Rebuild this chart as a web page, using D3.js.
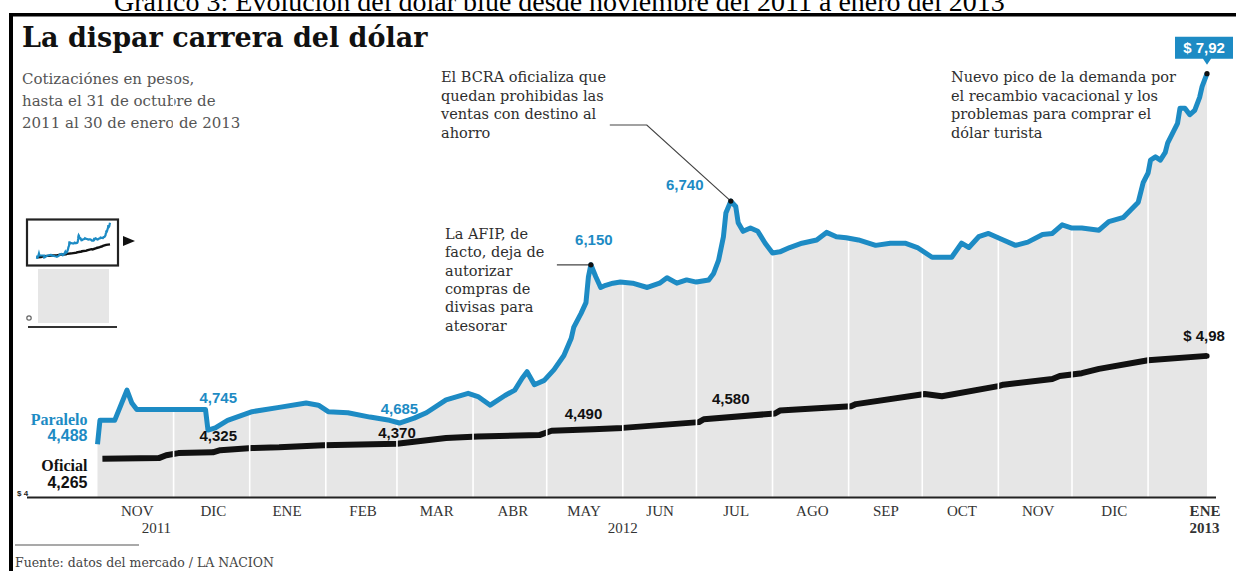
<!DOCTYPE html>
<html>
<head>
<meta charset="utf-8">
<script src="https://cdn.jsdelivr.net/npm/d3@7"></script>
<style>
  body { margin: 0; background: #fff; }
  svg { display: block; }
  text { font-family: "Liberation Serif", "DejaVu Serif", serif; }
  .num { font-family: "Liberation Sans", Arial, sans-serif; font-weight: bold; }
  .slab { font-family: "DejaVu Serif", "Liberation Serif", serif; }
</style>
</head>
<body>
<div id="chart"></div>
<script>
// Dólar paralelo (blue), cotización diaria aproximada
const paraleloDates = [
  "2011-10-31","2011-11-01","2011-11-07","2011-11-12","2011-11-14","2011-11-16","2011-12-14","2011-12-15","2011-12-18","2011-12-23",
  "2012-01-02","2012-01-13","2012-01-24","2012-01-29","2012-02-02","2012-02-10","2012-02-19","2012-02-27","2012-03-02","2012-03-08",
  "2012-03-13","2012-03-21","2012-03-30","2012-04-03","2012-04-08","2012-04-14","2012-04-18","2012-04-21","2012-04-23","2012-04-26",
  "2012-04-30","2012-05-04","2012-05-08","2012-05-11","2012-05-12","2012-05-15","2012-05-17","2012-05-18","2012-05-19","2012-05-21",
  "2012-05-23","2012-05-25","2012-05-28","2012-05-31","2012-06-05","2012-06-11","2012-06-16","2012-06-19","2012-06-23","2012-06-27",
  "2012-07-01","2012-07-06","2012-07-08","2012-07-10","2012-07-12","2012-07-13","2012-07-15","2012-07-17","2012-07-18","2012-07-20",
  "2012-07-23","2012-07-26","2012-07-29","2012-08-01","2012-08-04","2012-08-08","2012-08-13","2012-08-19","2012-08-23","2012-08-27",
  "2012-08-31","2012-09-05","2012-09-12","2012-09-18","2012-09-24","2012-09-29","2012-10-05","2012-10-09","2012-10-13","2012-10-17",
  "2012-10-20","2012-10-24","2012-10-28","2012-11-03","2012-11-08","2012-11-13","2012-11-19","2012-11-23","2012-11-27","2012-12-01",
  "2012-12-05","2012-12-12","2012-12-16","2012-12-22","2012-12-25","2012-12-28","2012-12-30","2013-01-01","2013-01-02","2013-01-04",
  "2013-01-06","2013-01-08","2013-01-09","2013-01-11","2013-01-13","2013-01-14","2013-01-16","2013-01-18","2013-01-20","2013-01-22",
  "2013-01-23","2013-01-25"
];
const paraleloValues = [
  4.488,4.71,4.71,4.99,4.87,4.81,4.81,4.62,4.64,4.71,
  4.79,4.83,4.87,4.85,4.79,4.78,4.74,4.71,4.685,4.73,
  4.78,4.90,4.96,4.93,4.85,4.94,4.99,5.10,5.16,5.04,
  5.08,5.18,5.31,5.47,5.57,5.70,5.80,6.04,6.15,6.04,
  5.94,5.96,5.98,5.99,5.98,5.94,5.98,6.03,5.98,6.01,
  5.99,6.01,6.07,6.19,6.41,6.63,6.74,6.69,6.54,6.46,
  6.49,6.46,6.35,6.26,6.27,6.31,6.35,6.38,6.45,6.41,
  6.40,6.38,6.33,6.35,6.35,6.31,6.22,6.22,6.22,6.35,
  6.31,6.41,6.44,6.38,6.33,6.36,6.43,6.44,6.52,6.49,
  6.49,6.47,6.55,6.59,6.66,6.73,6.91,7.00,7.12,7.15,
  7.12,7.19,7.28,7.37,7.46,7.60,7.60,7.54,7.58,7.70,
  7.80,7.92
];

// Dólar oficial
const oficialDates = [
  "2011-11-02","2011-11-25","2011-11-28","2011-12-03","2011-12-17","2011-12-20","2012-01-02","2012-01-13",
  "2012-01-31","2012-03-01","2012-03-21","2012-04-03","2012-04-28","2012-05-03","2012-05-20","2012-06-01",
  "2012-07-02","2012-07-04","2012-08-02","2012-08-04","2012-09-02","2012-09-04","2012-10-02","2012-10-09",
  "2012-11-01","2012-11-03","2012-11-23","2012-11-26","2012-12-05","2012-12-12","2013-01-01","2013-01-25"
];
const oficialValues = [
  4.265,4.27,4.29,4.305,4.31,4.325,4.34,4.345,
  4.36,4.37,4.41,4.42,4.43,4.46,4.47,4.48,
  4.52,4.54,4.58,4.60,4.63,4.645,4.715,4.70,
  4.77,4.78,4.82,4.84,4.86,4.89,4.95,4.98
];

// Eje de meses
const monthLabels = ["NOV","DIC","ENE","FEB","MAR","ABR","MAY","JUN","JUL","AGO","SEP","OCT","NOV","DIC","ENE"];
const monthDates = ["2011-11-16","2011-12-17","2012-01-16","2012-02-16","2012-03-17","2012-04-17","2012-05-16","2012-06-16",
  "2012-07-17","2012-08-17","2012-09-16","2012-10-17","2012-11-17","2012-12-18","2013-01-24"];
const yearLabels = ["2011","2012","2013"];
const yearDates = ["2011-11-24","2012-06-01","2013-01-24"];

// Valores destacados
const paraleloMarks = ["4,745","4,685","6,150","6,740"];
const paraleloMarkDates = ["2011-12-20","2012-03-02","2012-05-19","2012-07-15"];
const paraleloMarkValues = [4.745,4.685,6.15,6.74];
const oficialMarks = ["4,325","4,370","4,490","4,580"];
const oficialMarkDates = ["2011-12-20","2012-03-01","2012-05-16","2012-07-15"];
const oficialMarkValues = [4.325,4.37,4.49,4.58];

const caption = "Gráfico 3: Evolución del dólar blue desde noviembre del 2011 a enero del 2013";
const title = "La dispar carrera del dólar";
const subtitle = ["Cotizaciónes en pesos,", "hasta el 31 de octubre de", "2011 al 30 de enero de 2013"];
const noteAfip = ["La AFIP, de", "facto, deja de", "autorizar", "compras de", "divisas para", "atesorar"];
const noteBcra = ["El BCRA oficializa que", "quedan prohibidas las", "ventas con destino al", "ahorro"];
const notePico = ["Nuevo pico de la demanda por", "el recambio vacacional y los", "problemas para comprar el", "dólar turista"];
const source = "Fuente:  datos del mercado / LA NACION";

const W = 1240, H = 571;
const BLUE = "#1d8bc4", GRAY = "#e6e6e6", INK = "#2e2e2e";
const parse = d3.timeParse("%Y-%m-%d");

const paralelo = paraleloDates.map((d, i) => ({ date: parse(d), value: paraleloValues[i] }));
const oficial = oficialDates.map((d, i) => ({ date: parse(d), value: oficialValues[i] }));

const svg = d3.select("#chart").append("svg").attr("width", W).attr("height", H);

const x = d3.scaleTime()
  .domain([parse("2011-10-31"), parse("2013-01-25")])
  .range([97.5, 1207]);
// the original uses separate vertical scales for each series
const yP = d3.scaleLinear().domain([4, 8]).range([497, 65]);
const yO = d3.scaleLinear().domain([4, 5]).range([497, 353]);

// caption above frame (cut at the top, as in the source image)
svg.append("text").attr("x", 114).attr("y", 11)
  .style("font-family", "'Liberation Serif', serif").style("font-size", "28px").attr("fill", "#000")
  .text(caption);

// frame
svg.append("rect").attr("x", 9).attr("y", 13).attr("width", 1227).attr("height", 3.5).attr("fill", "#000");
svg.append("rect").attr("x", 9).attr("y", 13).attr("width", 4).attr("height", H - 13).attr("fill", "#000");

// title and subtitle
svg.append("text").attr("class", "slab").attr("x", 22).attr("y", 47)
  .style("font-size", "27px").style("font-weight", "bold").attr("fill", "#111").text(title);
svg.append("g").selectAll("text").data(subtitle).join("text")
  .attr("class", "slab").attr("x", 22).attr("y", (d, i) => 84 + i * 22)
  .style("font-size", "15px").attr("fill", "#555").text(d => d);

// area under paralelo
const area = d3.area().x(d => x(d.date)).y0(yP(4)).y1(d => yP(d.value));
svg.append("path").datum(paralelo).attr("d", area).attr("fill", GRAY);

// oficial line
const lineO = d3.line().x(d => x(d.date)).y(d => yO(d.value));
svg.append("path").datum(oficial).attr("d", lineO)
  .attr("fill", "none").attr("stroke", "#111").attr("stroke-width", 6).attr("stroke-linejoin", "round");

// month separators (white)
const months = d3.timeMonth.range(parse("2011-12-01"), parse("2013-01-02"));
svg.append("g").selectAll("line").data(months).join("line")
  .attr("x1", d => x(d)).attr("x2", d => x(d))
  .attr("y1", yP(4)).attr("y2", 60)
  .attr("stroke", "#fff").attr("stroke-width", 1.6);

// paralelo line
const lineP = d3.line().x(d => x(d.date)).y(d => yP(d.value));
svg.append("path").datum(paralelo).attr("d", lineP)
  .attr("fill", "none").attr("stroke", BLUE).attr("stroke-width", 5).attr("stroke-linejoin", "round");

// baseline
svg.append("line").attr("x1", 27).attr("x2", 1216).attr("y1", 497.5).attr("y2", 497.5)
  .attr("stroke", "#222").attr("stroke-width", 2.2);
svg.append("text").attr("x", 17).attr("y", 496).attr("class", "num")
  .style("font-size", "8px").attr("fill", "#222").text("$ 4");

// x axis
const xAxis = d3.axisBottom(x)
  .tickValues(monthDates.map(parse))
  .tickFormat((d, i) => monthLabels[i])
  .tickSize(0).tickPadding(8);
const gx = svg.append("g").attr("transform", `translate(0, ${yP(4)})`).call(xAxis);
gx.select(".domain").remove();
gx.selectAll("text")
  .style("font-family", "'Liberation Serif', serif").style("font-size", "15px").attr("fill", "#333")
  .style("font-weight", (d, i) => i === monthLabels.length - 1 ? "bold" : "normal");
svg.append("g").selectAll("text").data(yearLabels).join("text")
  .attr("x", (d, i) => x(parse(yearDates[i]))).attr("y", 533)
  .attr("text-anchor", "middle").style("font-size", "15px").attr("fill", "#333")
  .style("font-weight", (d, i) => i === yearLabels.length - 1 ? "bold" : "normal")
  .text(d => d);

// legends at series start
const p0 = paralelo[0], o0 = oficial[0];
const legend = svg.append("g").attr("text-anchor", "end").style("font-weight", "bold").style("font-size", "16px");
legend.append("text").attr("x", x(p0.date) - 10).attr("y", yP(p0.value) - 19).attr("fill", BLUE).text("Paralelo");
legend.append("text").attr("x", x(p0.date) - 10).attr("y", yP(p0.value) - 3).attr("class", "num").attr("fill", BLUE).text("4,488");
legend.append("text").attr("x", x(p0.date) - 10).attr("y", yO(o0.value) + 12).attr("fill", "#111").text("Oficial");
legend.append("text").attr("x", x(p0.date) - 10).attr("y", yO(o0.value) + 29).attr("class", "num").attr("fill", "#111").text("4,265");

// value labels
const pOff = [[-2, -14], [0, -9], [3, -20], [-46, -11]];
svg.append("g").selectAll("text").data(paraleloMarks).join("text")
  .attr("class", "num").attr("text-anchor", "middle").style("font-size", "15px").attr("fill", BLUE)
  .attr("x", (d, i) => x(parse(paraleloMarkDates[i])) + pOff[i][0])
  .attr("y", (d, i) => yP(paraleloMarkValues[i]) + pOff[i][1])
  .text(d => d);
const oOff = [[-2, -9], [0, -6], [0, -7], [0, -9]];
svg.append("g").selectAll("text").data(oficialMarks).join("text")
  .attr("class", "num").attr("text-anchor", "middle").style("font-size", "15px").attr("fill", "#111")
  .attr("x", (d, i) => x(parse(oficialMarkDates[i])) + oOff[i][0])
  .attr("y", (d, i) => yO(oficialMarkValues[i]) + oOff[i][1])
  .text(d => d);

// annotations
const afipPt = [x(parse(paraleloMarkDates[2])), yP(paraleloMarkValues[2])];
const bcraPt = [x(parse(paraleloMarkDates[3])), yP(paraleloMarkValues[3])];
const pEnd = paralelo[paralelo.length - 1], oEnd = oficial[oficial.length - 1];
const endP = [x(pEnd.date), yP(pEnd.value)];
const endO = [x(oEnd.date), yO(oEnd.value)];

svg.append("path")
  .attr("d", d3.line()([[afipPt[0] - 34, afipPt[1]], afipPt]))
  .attr("fill", "none").attr("stroke", "#444").attr("stroke-width", 1.2);
svg.append("path")
  .attr("d", d3.line()([[bcraPt[0] - 121, 125], [bcraPt[0] - 84, 125], bcraPt]))
  .attr("fill", "none").attr("stroke", "#444").attr("stroke-width", 1.2);

function note(lines, x0, y0, lh) {
  svg.append("g").selectAll("text").data(lines).join("text")
    .attr("class", "slab").attr("x", x0).attr("y", (d, i) => y0 + i * lh)
    .style("font-size", "14.5px").attr("fill", INK)
    .text(d => d);
}
note(noteAfip, 445, 239, 18.3);
note(noteBcra, 441, 82, 18.6);
note(notePico, 951, 82, 18.6);

// end value boxes
svg.append("path")
  .attr("d", d3.line()([[endP[0] - 32, endP[1] - 37], [endP[0] + 26, endP[1] - 37], [endP[0] + 26, endP[1] - 15],
    [endP[0] + 4, endP[1] - 15], [endP[0], endP[1] - 9], [endP[0] - 4, endP[1] - 15], [endP[0] - 32, endP[1] - 15]]))
  .attr("fill", BLUE);
svg.append("text").attr("class", "num").attr("x", endP[0] - 3).attr("y", endP[1] - 20.5)
  .attr("text-anchor", "middle").style("font-size", "15px").attr("fill", "#fff").text("$ 7,92");
svg.append("text").attr("class", "num").attr("x", endO[0] - 3).attr("y", endO[1] - 15)
  .attr("text-anchor", "middle").style("font-size", "15px").attr("fill", "#111").text("$ 4,98");

svg.append("g").selectAll("circle").data([afipPt, bcraPt, endP, endO]).join("circle")
  .attr("cx", d => d[0]).attr("cy", d => d[1]).attr("r", 2.6).attr("fill", "#111");

// inset thumbnail
const xm = d3.scaleTime().domain(x.domain()).range([37, 110]);
const yPm = d3.scaleLinear().domain([4, 8]).range([264, 222]);
const yOm = d3.scaleLinear().domain([4, 5]).range([262, 244]);
const inset = svg.append("g");
inset.append("rect").attr("x", 38).attr("y", 269).attr("width", 71).attr("height", 54).attr("fill", GRAY);
inset.append("rect").attr("x", 27).attr("y", 219.5).attr("width", 91).attr("height", 46)
  .attr("fill", "#fff").attr("stroke", "#222").attr("stroke-width", 2.2);
inset.append("path").datum(oficial)
  .attr("d", d3.line().x(d => xm(d.date)).y(d => yOm(d.value)))
  .attr("fill", "none").attr("stroke", "#111").attr("stroke-width", 2.4);
inset.append("path").datum(paralelo)
  .attr("d", d3.line().x(d => xm(d.date)).y(d => yPm(d.value)))
  .attr("fill", "none").attr("stroke", BLUE).attr("stroke-width", 2.2);
inset.append("path").attr("d", "M123,236L135,241L123,246Z").attr("fill", "#111");
inset.append("line").attr("x1", 28).attr("x2", 117).attr("y1", 327).attr("y2", 327)
  .attr("stroke", "#333").attr("stroke-width", 2);
inset.append("circle").attr("cx", 29).attr("cy", 318).attr("r", 2.2)
  .attr("fill", "none").attr("stroke", "#666").attr("stroke-width", 1.2);

// source
svg.append("line").attr("x1", 15).attr("x2", 139).attr("y1", 545).attr("y2", 545)
  .attr("stroke", "#555").attr("stroke-width", 1.2);
svg.append("text").attr("class", "slab").attr("x", 15).attr("y", 567)
  .style("font-size", "12.5px").attr("fill", "#444").text(source);
</script>
</body>
</html>
